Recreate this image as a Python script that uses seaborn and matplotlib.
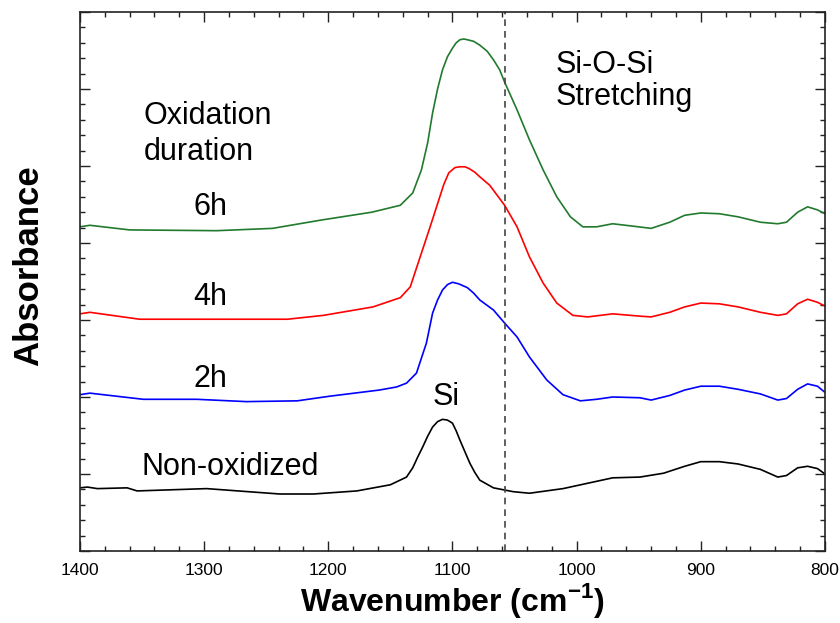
import pandas as pd
import seaborn as sns
import matplotlib.pyplot as plt
from matplotlib.ticker import MultipleLocator

# wavenumber (cm-1) / absorbance (offset, arb. units)
wn_6h = [1400, 1392, 1360, 1290, 1245, 1205, 1165, 1142, 1132, 1125, 1120, 1116, 1112, 1108,
         1104, 1100, 1097, 1094, 1091, 1088, 1083, 1078, 1072, 1067, 1062, 1058, 1048, 1038,
         1027, 1016, 1005, 995, 984, 971, 950, 940, 925, 913, 900, 885, 870, 852, 838, 831, 822,
         814, 806, 800]
abs_6h = [4.21, 4.23, 4.17, 4.16, 4.19, 4.30, 4.40, 4.49, 4.65, 4.95, 5.30, 5.69, 6.00, 6.25,
          6.42, 6.53, 6.60, 6.64, 6.65, 6.64, 6.62, 6.57, 6.49, 6.38, 6.25, 6.09, 5.73, 5.34,
          4.95, 4.60, 4.34, 4.21, 4.21, 4.25, 4.21, 4.19, 4.27, 4.36, 4.39, 4.38, 4.34, 4.27,
          4.25, 4.27, 4.40, 4.47, 4.43, 4.38]

wn_4h = [1400, 1392, 1352, 1271, 1233, 1204, 1164, 1142, 1134, 1126, 1118, 1111, 1107, 1103,
         1098, 1094, 1090, 1087, 1082, 1078, 1070, 1058, 1048, 1038, 1027, 1016, 1003, 991, 971,
         949, 940, 925, 913, 900, 885, 870, 852, 838, 831, 822, 814, 806, 800]
abs_4h = [3.08, 3.10, 3.01, 3.01, 3.01, 3.06, 3.17, 3.29, 3.43, 3.82, 4.21, 4.56, 4.76, 4.91,
          4.98, 4.99, 4.99, 4.97, 4.92, 4.86, 4.75, 4.49, 4.21, 3.82, 3.48, 3.22, 3.06, 3.04,
          3.08, 3.05, 3.04, 3.10, 3.17, 3.22, 3.21, 3.17, 3.10, 3.06, 3.08, 3.21, 3.27, 3.23, 3.18]

wn_2h = [1400, 1392, 1349, 1306, 1266, 1225, 1199, 1159, 1145, 1137, 1129, 1121, 1116, 1112,
         1108, 1104, 1100, 1095, 1088, 1083, 1078, 1067, 1058, 1048, 1038, 1024, 1011, 997, 984,
         971, 949, 940, 925, 913, 900, 885, 870, 852, 838, 831, 822, 814, 806, 800]
abs_2h = [2.03, 2.05, 1.97, 1.97, 1.94, 1.95, 2.01, 2.09, 2.13, 2.18, 2.31, 2.70, 3.09, 3.26,
          3.39, 3.46, 3.49, 3.47, 3.42, 3.35, 3.26, 3.13, 2.96, 2.78, 2.52, 2.22, 2.03, 1.95,
          1.97, 2.00, 1.99, 1.96, 2.02, 2.09, 2.14, 2.14, 2.10, 2.04, 1.96, 1.98, 2.10, 2.17,
          2.14, 2.06]

wn_0h = [1400, 1394, 1386, 1362, 1354, 1298, 1239, 1212, 1177, 1150, 1137, 1132, 1128, 1124,
         1120, 1116, 1112, 1108, 1104, 1100, 1097, 1094, 1090, 1086, 1082, 1078, 1067, 1051,
         1038, 1011, 991, 971, 949, 930, 913, 900, 885, 870, 852, 838, 831, 822, 814, 806, 800]
abs_0h = [0.82, 0.83, 0.81, 0.82, 0.78, 0.81, 0.74, 0.74, 0.78, 0.86, 0.96, 1.08, 1.22, 1.35,
          1.49, 1.61, 1.68, 1.71, 1.70, 1.66, 1.56, 1.44, 1.29, 1.14, 1.02, 0.92, 0.82, 0.77,
          0.75, 0.81, 0.88, 0.95, 0.96, 1.01, 1.10, 1.16, 1.16, 1.13, 1.06, 0.96, 0.98, 1.08,
          1.10, 1.07, 1.00]

samples = ["Non-oxidized", "2h", "4h", "6h"]
colors = ["black", "#0000ff", "#ff0000", "#217a2e"]
label_y = [0.99, 2.13, 3.19, 4.36]
siosi_wn = 1058

frames = []
for name, wn, ab in zip(samples, [wn_0h, wn_2h, wn_4h, wn_6h], [abs_0h, abs_2h, abs_4h, abs_6h]):
    frames.append(pd.DataFrame({"wn": wn, "absorbance": ab, "sample": name}))
df = pd.concat(frames, ignore_index=True)

sns.set_style("ticks", rc={"text.color": "black", "axes.labelcolor": "black",
                           "xtick.color": "black", "ytick.color": "black",
                           "axes.edgecolor": "#222222"})
plt.rcParams["font.family"] = ["Liberation Sans", "DejaVu Sans"]

fig = plt.figure(figsize=(8.4, 6.23), dpi=100)
ax = fig.add_axes([0.0952, 0.1156, 0.8869, 0.8651])

sns.lineplot(data=df, x="wn", y="absorbance", hue="sample", hue_order=samples,
             palette=colors, linewidth=1.2, legend=False, ax=ax, estimator=None)

ax.axvline(siosi_wn, color="#444444", linestyle=(0, (4, 3)), linewidth=1.2)

ax.set_xlim(1400, 800)
ax.set_ylim(0, 7)
ax.xaxis.set_major_locator(MultipleLocator(100))
ax.xaxis.set_minor_locator(MultipleLocator(20))
ax.yaxis.set_major_locator(MultipleLocator(1))
ax.yaxis.set_minor_locator(MultipleLocator(0.2))
ax.tick_params(which="both", direction="in", top=True, right=True, width=1, color="#222222")
ax.tick_params(which="major", length=7, labelsize=12.5)
ax.tick_params(axis="x", which="major", pad=9)
ax.tick_params(which="minor", length=3.5)
ax.set_yticklabels([])
for s in ax.spines.values():
    s.set_linewidth(1.2)

ax.set_xlabel("Wavenumber (cm$^{\\mathregular{-1}}$)", fontsize=23, fontweight="bold", labelpad=2)
ax.set_ylabel("Absorbance", fontsize=25, fontweight="bold")
ax.yaxis.set_label_coords(-0.047, 0.53)

for name, y in zip(samples, label_y):
    xpos = 1279 if name == "Non-oxidized" else 1295
    ax.text(xpos, y, name, fontsize=22, ha="center", va="baseline")

ax.text(1349, 5.55, "Oxidation", fontsize=22, ha="left", va="baseline")
ax.text(1349, 5.08, "duration", fontsize=22, ha="left", va="baseline")
ax.text(1017, 6.21, "Si-O-Si", fontsize=22, ha="left", va="baseline")
ax.text(1017, 5.79, "Stretching", fontsize=22, ha="left", va="baseline")
ax.text(1105, 1.90, "Si", fontsize=22, ha="center", va="baseline")

plt.savefig("out.png", dpi=100)
